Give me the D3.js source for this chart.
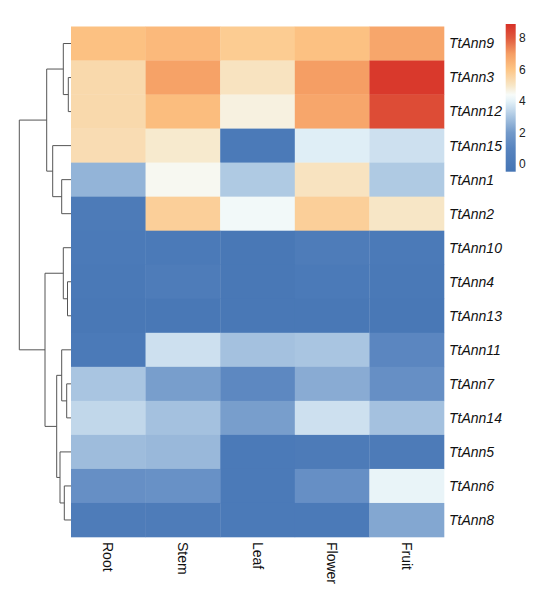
<html>
<head>
<meta charset="utf-8">
<title>TtAnn heatmap</title>
<style>
  body { margin: 0; background: #fff; }
  svg { display: block; font-family: "Liberation Sans", Arial, sans-serif; }
  .rowlab { font-size: 14px; font-style: italic; fill: #111; }
  .collab { font-size: 14px; fill: #111; }
  .leg text { font-size: 12px; fill: #222; }
  .dendro path { fill: none; stroke: #555; stroke-width: 1; }
</style>
<script src="https://cdnjs.cloudflare.com/ajax/libs/d3/7.8.5/d3.min.js"></script>
</head>
<body>
<svg id="chart"></svg>
<script>
// rows in clustered order, top to bottom
const genes = ['TtAnn9', 'TtAnn3', 'TtAnn12', 'TtAnn15', 'TtAnn1', 'TtAnn2', 'TtAnn10', 'TtAnn4',
  'TtAnn13', 'TtAnn11', 'TtAnn7', 'TtAnn14', 'TtAnn5', 'TtAnn6', 'TtAnn8'];
const tissues = ['Root', 'Stem', 'Leaf', 'Flower', 'Fruit'];

// expression per gene: Root, Stem, Leaf, Flower, Fruit
const TtAnn9  = [6.1, 6.3, 5.8, 6.1, 6.8];
const TtAnn3  = [5.4, 6.9, 5.1, 7.0, 8.7];
const TtAnn12 = [5.4, 6.2, 4.7, 6.8, 8.3];
const TtAnn15 = [5.3, 4.9, 0.0, 3.9, 3.6];
const TtAnn1  = [2.6, 4.5, 3.1, 5.1, 3.1];
const TtAnn2  = [0.1, 5.7, 4.3, 5.7, 5.0];
const TtAnn10 = [0.0, 0.0, -0.2, 0.2, 0.0];
const TtAnn4  = [-0.1, 0.2, -0.2, 0.0, -0.1];
const TtAnn13 = [-0.2, -0.2, -0.2, -0.2, -0.2];
const TtAnn11 = [0.0, 3.6, 2.9, 3.0, 1.1];
const TtAnn7  = [3.0, 2.1, 1.2, 2.4, 1.5];
const TtAnn14 = [3.4, 2.9, 2.1, 3.6, 2.9];
const TtAnn5  = [2.8, 2.7, 0.0, 0.1, 0.1];
const TtAnn6  = [1.5, 1.6, 0.0, 1.5, 4.1];
const TtAnn8  = [0.2, 0.2, 0.0, 0.0, 2.3];
const values = [TtAnn9, TtAnn3, TtAnn12, TtAnn15, TtAnn1, TtAnn2, TtAnn10, TtAnn4,
  TtAnn13, TtAnn11, TtAnn7, TtAnn14, TtAnn5, TtAnn6, TtAnn8];

// row clustering, hclust style: [left, right, height]; "mN" = merge N
const merges = [
  ['TtAnn3', 'TtAnn12', 2.7],
  ['TtAnn9', 'm0', 7.7],
  ['TtAnn1', 'TtAnn2', 9.3],
  ['TtAnn15', 'm2', 18.3],
  ['m1', 'm3', 24.3],
  ['TtAnn4', 'TtAnn13', 3.5],
  ['TtAnn10', 'm5', 7.7],
  ['TtAnn7', 'TtAnn14', 4.3],
  ['TtAnn11', 'm7', 9.3],
  ['TtAnn6', 'TtAnn8', 6.7],
  ['TtAnn5', 'm9', 11.0],
  ['m8', 'm10', 14.3],
  ['m6', 'm11', 26.0],
  ['m4', 'm12', 51.7]
];

// colour legend
const legendTicks = [0, 2, 4, 6, 8];
const colorStops = [-0.5, 1, 2, 3, 4, 4.4, 5, 6, 7, 8, 8.9];
const colorRange = ['#4575B4', '#5884BF', '#739ACA', '#A9C5E1', '#E5F2F8', '#F7FBF9',
  '#F7E6C6', '#FDC585', '#F59E64', '#E05A3E', '#D73027'];

const width = 550, height = 598;
const svg = d3.select('#chart').attr('width', width).attr('height', height);

const x = d3.scaleBand().domain(tissues).range([71, 444]);
const y = d3.scaleBand().domain(genes).range([26.5, 537]);
const color = d3.scaleLinear().domain(colorStops).range(colorRange).clamp(true);

// cells
const cells = [];
genes.forEach((g, i) => tissues.forEach((t, j) => cells.push({ g, t, v: values[i][j] })));
svg.append('g').selectAll('rect')
  .data(cells)
  .enter()
  .append('rect')
  .attr('x', d => x(d.t))
  .attr('y', d => y(d.g))
  .attr('width', x.bandwidth() + 0.3)
  .attr('height', y.bandwidth() + 0.3)
  .attr('fill', d => color(d.v));

// row labels
svg.append('g').selectAll('text')
  .data(genes)
  .enter()
  .append('text')
  .attr('class', 'rowlab')
  .attr('x', 449)
  .attr('y', d => y(d) + y.bandwidth() / 2)
  .attr('dy', '0.35em')
  .text(d => d);

// column labels, rotated
svg.append('g').selectAll('text')
  .data(tissues)
  .enter()
  .append('text')
  .attr('class', 'collab')
  .attr('transform', d => `translate(${x(d) + x.bandwidth() / 2},542) rotate(90)`)
  .attr('dy', '0.35em')
  .text(d => d);

// dendrogram
const hx = d3.scaleLinear().domain([0, 51.7]).range([71, 19.3]);
const nodes = {};
genes.forEach(g => { nodes[g] = { y: y(g) + y.bandwidth() / 2, h: 0 }; });
const links = [];
merges.forEach((m, i) => {
  const a = nodes[m[0]], b = nodes[m[1]];
  const n = { y: (a.y + b.y) / 2, h: m[2] };
  nodes['m' + i] = n;
  links.push({ n, a, b });
});
svg.append('g').attr('class', 'dendro').selectAll('path')
  .data(links)
  .enter()
  .append('path')
  .attr('d', d => `M${hx(d.a.h)},${d.a.y}H${hx(d.n.h)}V${d.b.y}H${hx(d.b.h)}`);

// legend
const ly = d3.scaleLinear().domain([-0.5, 8.9]).range([171.7, 24]);
const grad = svg.append('defs').append('linearGradient')
  .attr('id', 'lg').attr('x1', 0).attr('y1', 1).attr('x2', 0).attr('y2', 0);
grad.selectAll('stop')
  .data(colorStops)
  .enter()
  .append('stop')
  .attr('offset', d => (d + 0.5) / 9.4)
  .attr('stop-color', d => color(d));
const leg = svg.append('g').attr('class', 'leg');
leg.append('rect')
  .attr('x', 505.7).attr('y', ly(8.9))
  .attr('width', 10).attr('height', ly(-0.5) - ly(8.9))
  .attr('fill', 'url(#lg)');
leg.selectAll('text')
  .data(legendTicks)
  .enter()
  .append('text')
  .attr('x', 519)
  .attr('y', d => ly(d))
  .attr('dy', '0.35em')
  .text(d => d);
</script>
</body>
</html>
